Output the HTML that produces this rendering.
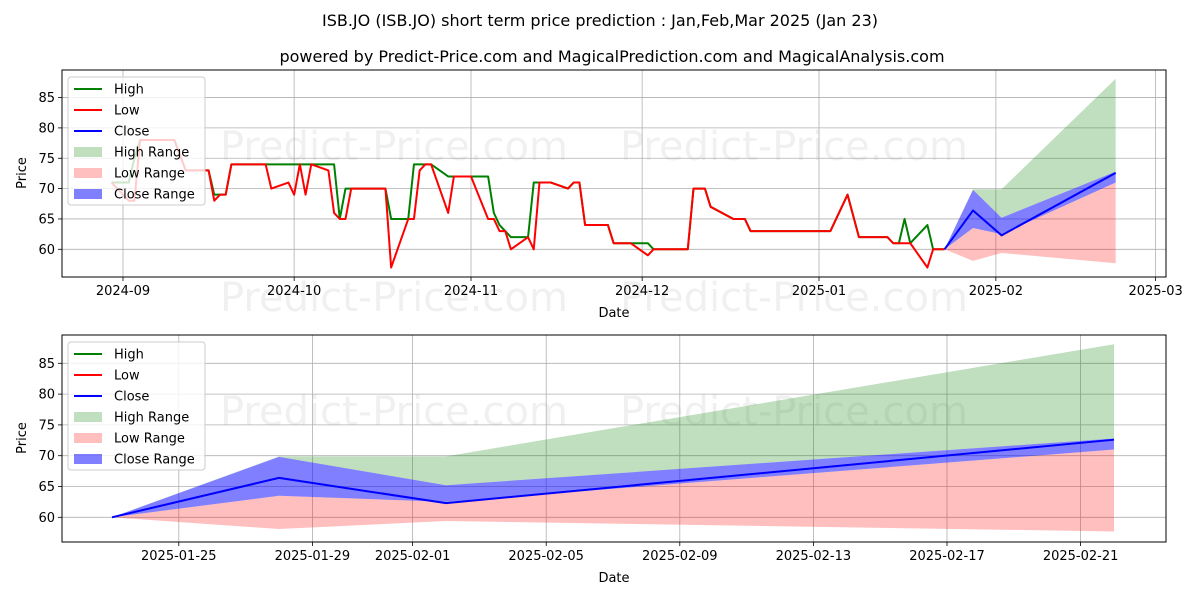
<!DOCTYPE html>
<html><head><meta charset="utf-8"><style>
body{margin:0;background:#fff}
svg text{font-family:"DejaVu Sans","Liberation Sans",sans-serif}
</style></head><body>
<svg id="chart" width="1200" height="600" xmlns="http://www.w3.org/2000/svg">
<rect width="1200" height="600" fill="#fff"/>
<text x="600" y="26" font-size="16" text-anchor="middle">ISB.JO (ISB.JO) short term price prediction : Jan,Feb,Mar 2025 (Jan 23)</text>
<text x="612" y="62" font-size="16" text-anchor="middle">powered by Predict-Price.com and MagicalPrediction.com and MagicalAnalysis.com</text>
</svg>
<script>
const histDates=["2024-08-30","2024-09-02","2024-09-03","2024-09-04","2024-09-10","2024-09-12","2024-09-16","2024-09-17","2024-09-18","2024-09-19","2024-09-20","2024-09-26","2024-09-27","2024-09-30","2024-10-01","2024-10-02","2024-10-03","2024-10-04","2024-10-07","2024-10-08","2024-10-09","2024-10-10","2024-10-11","2024-10-17","2024-10-18","2024-10-21","2024-10-22","2024-10-23","2024-10-24","2024-10-25","2024-10-28","2024-10-29","2024-11-01","2024-11-04","2024-11-05","2024-11-06","2024-11-07","2024-11-08","2024-11-11","2024-11-12","2024-11-13","2024-11-15","2024-11-18","2024-11-19","2024-11-20","2024-11-21","2024-11-25","2024-11-26","2024-11-29","2024-12-02","2024-12-03","2024-12-09","2024-12-10","2024-12-12","2024-12-13","2024-12-17","2024-12-19","2024-12-20","2025-01-03","2025-01-06","2025-01-08","2025-01-13","2025-01-14","2025-01-15","2025-01-16","2025-01-17","2025-01-20","2025-01-21","2025-01-23"];
const histHigh=[71,71,75,78,78,73,73,69,69,69,74,74,74,74,74,74,74,74,74,74,65,70,70,70,65,65,74,74,74,74,72,72,72,72,66,64,63,62,62,71,71,71,70,71,71,64,64,61,61,61,60,60,70,70,67,65,65,63,63,69,62,62,61,61,65,61,64,60,60];
const histLow=[71,68,68,78,78,73,73,68,69,69,74,74,70,71,69,74,69,74,73,66,65,65,70,70,57,65,65,73,74,74,66,72,72,65,65,63,63,60,62,60,71,71,70,71,71,64,64,61,61,59,60,60,70,70,67,65,65,63,63,69,62,62,61,61,61,61,57,60,60];
const predDates=["2025-01-23","2025-01-28","2025-02-02","2025-02-22"];
const predClose=[60,66.4,62.3,72.6];
const predCloseHi=[60,69.8,65.2,72.8];
const predCloseLo=[60,63.5,62.5,71.0];
const predHighHi=[60,69.9,69.9,88.1];
const predLowLo=[60,58.1,59.4,57.7];
const topXTicks=["2024-09-01","2024-10-01","2024-11-01","2024-12-01","2025-01-01","2025-02-01","2025-03-01"];
const topXLabels=["2024-09","2024-10","2024-11","2024-12","2025-01","2025-02","2025-03"];
const botXTicks=["2025-01-25","2025-01-29","2025-02-01","2025-02-05","2025-02-09","2025-02-13","2025-02-17","2025-02-21"];
const yTicks=[60,65,70,75,80,85];

const NS="http://www.w3.org/2000/svg";
const svg=document.getElementById('chart');
const DAY=86400000;
function dnum(s){return Date.parse(s+"T00:00:00Z")/DAY;}
function mk(tag,attrs,parent){const e=document.createElementNS(NS,tag);for(const k in attrs)e.setAttribute(k,attrs[k]);(parent||svg).appendChild(e);return e;}

const panels=[
 {name:'top',left:62,right:1166,top:70,bottom:277,x0:dnum("2024-09-01"),px0:123,pxd:5.705,y60:249.3,pyu:6.07,ticks:topXTicks,labels:topXLabels,hist:true,dateY:317,priceY:173},
 {name:'bottom',left:62,right:1166,top:335,bottom:542,x0:dnum("2025-01-23"),px0:112,pxd:33.4,y60:517.3,pyu:6.16,ticks:botXTicks,labels:botXTicks,hist:false,dateY:582,priceY:438}
];

panels.forEach((P,pi)=>{
 const xs=d=>P.px0+(dnum(d)-P.x0)*P.pxd;
 const ys=v=>P.y60-(v-60)*P.pyu;
 const g=mk('g',{});
 
 
 const cp=mk('clipPath',{id:'clip'+pi},g);
 mk('rect',{x:P.left,y:P.top,width:P.right-P.left,height:P.bottom-P.top},cp);
 [[220,P.top+90],[620,P.top+90],[220,P.bottom+34],[620,P.bottom+34]].forEach((p,i)=>{
  if(pi===1&&i>1)return;
  const t=mk('text',{x:p[0],y:p[1],'font-size':40,fill:'#000','fill-opacity':0.06},g);
  
  
  t.textContent='Predict-Price.com';
 });
 P.ticks.forEach((d,i)=>{
  const x=xs(d);
  const l=mk('line',{x1:x,x2:x,y1:P.top,y2:P.bottom,stroke:'#b0b0b0','stroke-width':0.8},g);
  
  
  mk('line',{x1:x,x2:x,y1:P.bottom,y2:P.bottom+4,stroke:'#000','stroke-width':0.8},g);
  const t=mk('text',{x:x,y:P.bottom+18,'font-size':13,'text-anchor':'middle'},g);
  
  
  t.textContent=P.labels[i];
 });
 yTicks.forEach(v=>{
  const y=ys(v);
  const l=mk('line',{x1:P.left,x2:P.right,y1:y,y2:y,stroke:'#b0b0b0','stroke-width':0.8},g);
  
  
  mk('line',{x1:P.left-4,x2:P.left,y1:y,y2:y,stroke:'#000','stroke-width':0.8},g);
  const t=mk('text',{x:P.left-7,y:y+4.5,'font-size':13,'text-anchor':'end'},g);
  
  
  t.textContent=v;
 });
 const pg=mk('g',{'clip-path':'url(#clip'+pi+')'},g);
 function band(lo,hi,color,op,name){
  let pts=predDates.map((d,i)=>xs(d)+','+ys(hi[i]));
  pts=pts.concat(predDates.map((d,i)=>xs(d)+','+ys(lo[i])).reverse());
  const p=mk('polygon',{points:pts.join(' '),fill:color,'fill-opacity':op,stroke:'none'},pg);
  
  
 }
 function line(dates,vals,color,name){
  const p=mk('polyline',{points:dates.map((d,i)=>xs(d)+','+ys(vals[i])).join(' '),fill:'none',stroke:color,'stroke-width':2,'stroke-linejoin':'round'},pg);
  
  
 }
 band(predCloseHi,predHighHi,'#008000',0.25,'high-range-band');
 band(predLowLo,predCloseLo,'#ff0000',0.25,'low-range-band');
 band(predCloseLo,predCloseHi,'#0000ff',0.5,'close-range-band');
 if(P.hist){line(histDates,histHigh,'#008000','high-line');line(histDates,histLow,'#ff0000','low-line');}
 line(predDates,predClose,'#0000ff','close-line');
 const fr=mk('rect',{x:P.left,y:P.top,width:P.right-P.left,height:P.bottom-P.top,fill:'none',stroke:'#000','stroke-width':1},g);
 
 
 const xt=mk('text',{x:(P.left+P.right)/2,y:P.dateY,'font-size':13,'text-anchor':'middle'},g);
 
 
 xt.textContent='Date';
 const yt=mk('text',{x:0,y:0,'font-size':13,'text-anchor':'middle',transform:'translate(26,'+P.priceY+') rotate(-90)'},g);
 
 
 yt.textContent='Price';
 const lg=mk('g',{},g);
 
 
 const ly=P.top+7;
 mk('rect',{x:68,y:ly,width:137,height:128,rx:3,fill:'#fff','fill-opacity':0.8,stroke:'#ccc'},lg);
 const ents=[['High','#008000','line'],['Low','#ff0000','line'],['Close','#0000ff','line'],['High Range','#008000',0.25],['Low Range','#ff0000',0.25],['Close Range','#0000ff',0.5]];
 ents.forEach((e,i)=>{
  const cy=ly+12+i*21;
  const eg=mk('g',{},lg);
  
  
  if(e[2]==='line')mk('line',{x1:74,x2:102,y1:cy,y2:cy,stroke:e[1],'stroke-width':2},eg);
  else mk('rect',{x:74,y:cy-5,width:28,height:10,fill:e[1],'fill-opacity':e[2]},eg);
  const t=mk('text',{x:114,y:cy+4.5,'font-size':13},eg);
  t.textContent=e[0];
 });
});
</script>
</body></html>
